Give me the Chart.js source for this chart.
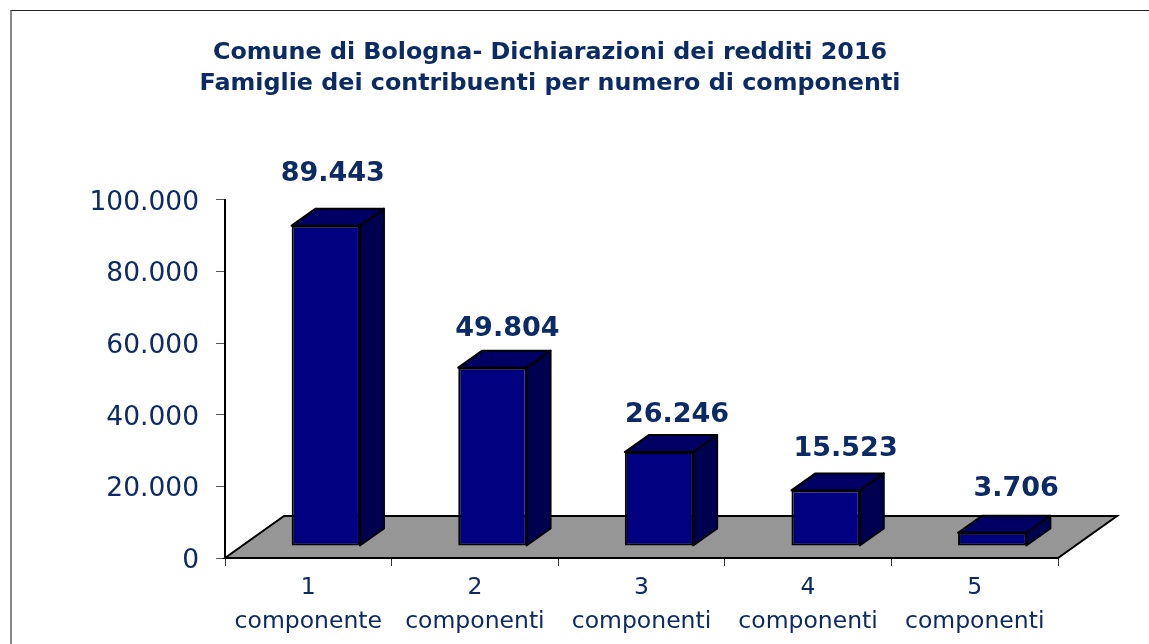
<!DOCTYPE html>
<html lang="it">
<head>
<meta charset="utf-8">
<title>Comune di Bologna</title>
<script src="https://cdn.jsdelivr.net/npm/chart.js@4/dist/chart.umd.min.js"></script>
<style>
html,body{margin:0;padding:0;background:#fff;overflow:hidden}
#frame{position:absolute;left:10px;top:10px;right:0;bottom:0;border-top:1px solid #222;border-left:2px solid #888}
canvas{position:absolute;left:0;top:0}
</style>
</head>
<body>
<div id="frame"></div>
<canvas id="c" width="1149" height="644"></canvas>
<script>
const categories = [["1","componente"],["2","componenti"],["3","componenti"],["4","componenti"],["5","componenti"]];
const families = [89443, 49804, 26246, 15523, 3706];
const valueLabels = ["89.443","49.804","26.246","15.523","3.706"];
const titleLines = ["Comune di Bologna- Dichiarazioni dei redditi 2016","Famiglie dei contribuenti per numero di componenti"];

const labelDx = [7,15,18,20,24];
const labelDy = [-51.5,-38.5,-37,-41.5,-43.5];
const TEXT = "#0b2a66", FONT = "'DejaVu Sans', Verdana, sans-serif";
const BAR_SHIFT = {x:17.5, y:-12}, DEPTH = {x:24, y:-17}, FLOOR = {x:59, y:-42};

const scene3d = {
  id:"scene3d",
  afterLayout(chart){
    if(chart.titleBlock){ chart.titleBlock.left = 0; chart.titleBlock.right = 1100; }
  },
  beforeDatasetsDraw(chart){
    const {ctx, scales:{x,y}} = chart, y0 = y.getPixelForValue(0);
    ctx.save();
    ctx.beginPath();
    ctx.moveTo(x.left,y0); ctx.lineTo(x.right,y0);
    ctx.lineTo(x.right+FLOOR.x,y0+FLOOR.y); ctx.lineTo(x.left+FLOOR.x,y0+FLOOR.y);
    ctx.closePath();
    ctx.fillStyle="#969696"; ctx.fill();
    ctx.strokeStyle="#000"; ctx.lineWidth=2; ctx.stroke();
    ctx.translate(BAR_SHIFT.x,BAR_SHIFT.y);
    ctx.lineJoin="round";
    chart.getDatasetMeta(0).data.forEach(b=>{
      const l=b.x-b.width/2, r=b.x+b.width/2;
      ctx.beginPath();
      ctx.moveTo(l,b.y); ctx.lineTo(l+DEPTH.x,b.y+DEPTH.y); ctx.lineTo(r+DEPTH.x,b.y+DEPTH.y); ctx.lineTo(r,b.y); ctx.closePath();
      ctx.fillStyle="#000064"; ctx.fill(); ctx.lineWidth=2; ctx.stroke();
      ctx.beginPath();
      ctx.moveTo(r,b.y); ctx.lineTo(r+DEPTH.x,b.y+DEPTH.y); ctx.lineTo(r+DEPTH.x,b.base+DEPTH.y); ctx.lineTo(r,b.base); ctx.closePath();
      ctx.fillStyle="#000050"; ctx.fill(); ctx.stroke();
    });
  },
  afterDatasetsDraw(chart){
    const {ctx} = chart;
    ctx.restore();
    ctx.save();
    ctx.fillStyle=TEXT; ctx.font="bold 27px "+FONT; ctx.textAlign="center"; ctx.textBaseline="middle";
    chart.getDatasetMeta(0).data.forEach((b,i)=>{
      ctx.fillText(valueLabels[i], b.x+BAR_SHIFT.x+labelDx[i], b.y+BAR_SHIFT.y+labelDy[i]);
    });
    ctx.restore();
  }
};

new Chart(document.getElementById("c"),{
  type:"bar",
  data:{labels:categories,datasets:[{data:families,backgroundColor:"#000080",borderColor:"#000",borderWidth:2,borderSkipped:false,barPercentage:0.41,categoryPercentage:1,clip:false}]},
  plugins:[scene3d],
  options:{
    responsive:false,animation:false,
    layout:{padding:{left:0,top:0,right:91,bottom:0}},
    plugins:{
      legend:{display:false},tooltip:{enabled:false},
      title:{display:true,text:titleLines,color:TEXT,font:{family:FONT,size:23.8,weight:"bold",lineHeight:1.3},padding:{top:37,bottom:101}}
    },
    scales:{
      x:{
        afterFit(s){s.height=86;},
        border:{color:"#000",width:2},
        grid:{display:true,drawOnChartArea:false,drawTicks:true,tickLength:8,color:"#333"},
        ticks:{color:TEXT,font:{family:FONT,size:23.5,lineHeight:1.45},padding:5,maxRotation:0,autoSkip:false}
      },
      y:{
        min:0,max:100000,
        afterFit(s){s.width=225;},
        border:{color:"#000",width:2},
        grid:{display:true,drawOnChartArea:false,drawTicks:true,tickLength:9,color:"#555"},
        ticks:{stepSize:20000,color:TEXT,font:{family:FONT,size:26.5},padding:17,labelOffset:3,callback:v=>String(v).replace(/\B(?=(\d{3})+$)/g,".")}
      }
    }
  }
});
</script>
</body>
</html>
